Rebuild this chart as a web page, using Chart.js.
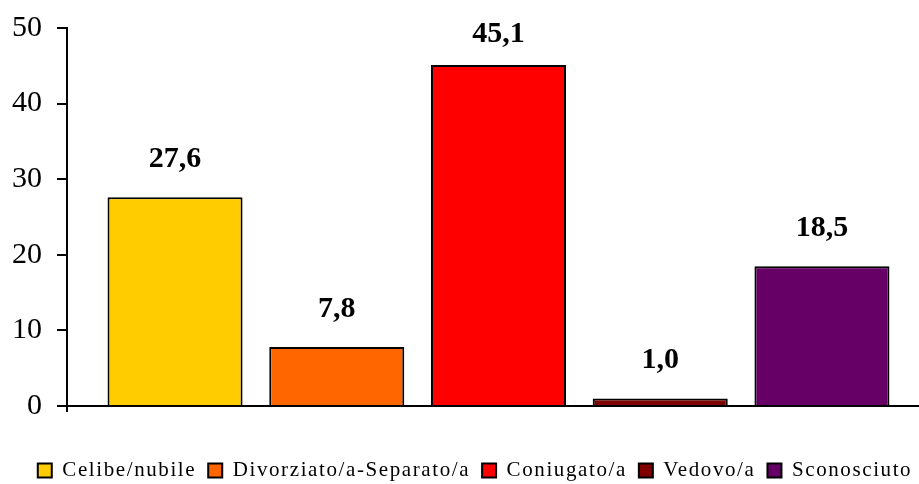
<!DOCTYPE html>
<html>
<head>
<meta charset="utf-8">
<script src="https://cdn.jsdelivr.net/npm/chart.js@4"></script>
<style>
  html, body { margin: 0; padding: 0; overflow: hidden; background: #fff; }
</style>
</head>
<body>
<canvas id="chart" width="950" height="484"></canvas>
<script>
// chart data
const categories = ["Celibe/nubile", "Divorziato/a-Separato/a", "Coniugato/a", "Vedovo/a", "Sconosciuto"];
const values = [27.6, 7.8, 45.1, 1.0, 18.5];
const yTicks = [0, 10, 20, 30, 40, 50];
const barColors = ["#FFCC00", "#FF6600", "#FF0000", "#800000", "#660066"];

const SERIF = '"Liberation Serif", "Times New Roman", serif';

function fmt(v) {
  return v.toFixed(1).replace(".", ",");
}

// value above each bar
const valueLabels = {
  id: "valueLabels",
  afterDatasetsDraw(chart) {
    const ctx = chart.ctx;
    ctx.save();
    ctx.font = `bold 30px ${SERIF}`;
    ctx.fillStyle = "#000";
    ctx.textAlign = "center";
    ctx.textBaseline = "alphabetic";
    chart.data.datasets.forEach((ds, i) => {
      const bar = chart.getDatasetMeta(i).data[0];
      const y = Math.max(bar.y - 30, chart.chartArea.top + 14);
      ctx.fillText(fmt(ds.data[0]), bar.x, y);
    });
    ctx.restore();
  }
};

// wider letter spacing for the legend text, legend pushed a bit lower
const legendSpacing = {
  id: "legendSpacing",
  beforeUpdate(chart) {
    const lg = chart.legend;
    if (!lg || lg._spaced) return;
    lg._spaced = true;
    ["fit", "draw"].forEach(name => {
      const orig = lg[name];
      lg[name] = function (...args) {
        const ctx = this.ctx;
        const prev = ctx.letterSpacing;
        ctx.letterSpacing = "1.6px";
        const r = orig.apply(this, args);
        ctx.letterSpacing = prev;
        if (name === "fit") this.height -= 7;
        return r;
      };
    });
  }
};

new Chart(document.getElementById("chart"), {
  type: "bar",
  data: {
    labels: [""],
    datasets: categories.map((name, i) => ({
      label: name,
      data: [values[i]],
      backgroundColor: barColors[i],
      borderColor: "#000",
      borderWidth: 2,
      barPercentage: 0.835,
      categoryPercentage: 0.937,
    })),
  },
  options: {
    responsive: false,
    animation: false,
    layout: { padding: { top: 28, left: 0, right: 0, bottom: 0 } },
    plugins: {
      tooltip: { enabled: false },
      legend: {
        position: "bottom",
        labels: {
          boxWidth: 14,
          boxHeight: 14,
          padding: 12,
          color: "#000",
          font: { family: SERIF, size: 21 },
        },
      },
    },
    scales: {
      x: {
        afterFit: s => { s.height = 42; },
        grid: { display: true, drawOnChartArea: false, color: "#000", lineWidth: 2, tickLength: 6 },
        border: { color: "#000", width: 2 },
        ticks: { display: false },
      },
      y: {
        min: 0,
        max: 50,
        afterBuildTicks: s => { s.ticks = yTicks.map(v => ({ value: v })); },
        afterFit: s => { s.width = 67; s.paddingTop = 0; s.paddingBottom = 0; },
        grid: { drawOnChartArea: false, color: "#000", lineWidth: 2, tickLength: 10 },
        border: { color: "#000", width: 2 },
        ticks: { color: "#000", padding: 15, font: { family: SERIF, size: 30 } },
      },
      y2: {
        position: "right",
        display: true,
        afterFit: s => { s.width = 20; s.paddingTop = 0; s.paddingBottom = 0; },
        grid: { display: false },
        border: { display: false },
        ticks: { display: false },
      },
    },
  },
  plugins: [valueLabels, legendSpacing],
});
</script>
</body>
</html>
